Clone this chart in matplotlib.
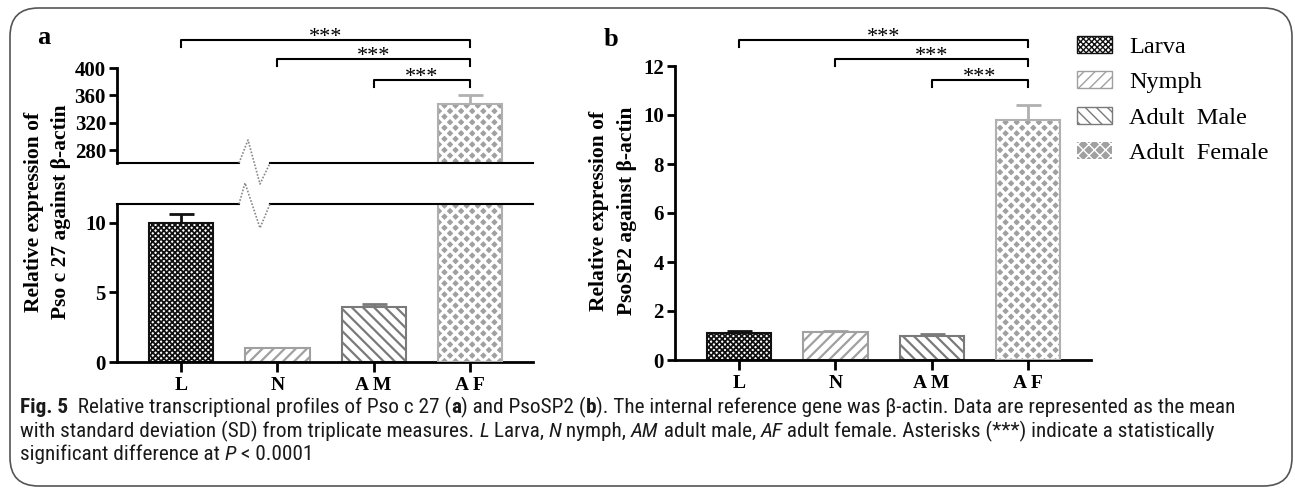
import numpy as np
import matplotlib
matplotlib.use("Agg")
import matplotlib.pyplot as plt
from matplotlib.patches import FancyBboxPatch, Patch
from matplotlib.lines import Line2D
import matplotlib.transforms as mtransforms
from matplotlib import font_manager as fm

# data
stages = ["Larva", "Nymph", "Adult  Male", "Adult  Female"]
tick_labels = ["L", "N", "A M", "A F"]
pso_c27_mean = [10.0, 0.97, 3.97, 347.0]
pso_c27_sd = [0.6, 0.05, 0.2, 13.0]
psosp2_mean = [1.1, 1.13, 0.98, 9.8]
psosp2_sd = [0.1, 0.05, 0.1, 0.6]
# groups compared against AF
sig_pairs = [(0, 3), (1, 3), (2, 3)]

W, H = 1295, 492
SERIF = ["Liberation Serif", "DejaVu Serif"]
plt.rcParams["font.family"] = SERIF
plt.rcParams["font.weight"] = "bold"

# pick a narrow sans for the caption if one is installed
names = {f.name for f in fm.fontManager.ttflist}
cap_stretch = "normal"
if "Liberation Sans Narrow" in names:
    CAP = ["Liberation Sans Narrow", "DejaVu Sans"]
elif "Roboto Condensed" in names:
    CAP = ["Roboto Condensed", "DejaVu Sans"]
elif any(f.name == "DejaVu Sans" and str(f.stretch) == "condensed" for f in fm.fontManager.ttflist):
    CAP = ["DejaVu Sans"]
    cap_stretch = "condensed"
else:
    CAP = ["Roboto", "DejaVu Sans"]

edge_cols = ["#111111", "#a0a0a0", "#7a7a7a", "#b0b0b0"]
hatches = ["xxxxxx", "///", "\\\\\\", "xxx"]
hatch_lw = [1.3, 1.6, 1.6, 2.3]

fig = plt.figure(figsize=(W / 100, H / 100), dpi=100)


def px_axes(left, top, right, bottom):
    return fig.add_axes([left / W, 1 - bottom / H, (right - left) / W, (bottom - top) / H])


def set_hlw(patch, lw):
    if hasattr(patch, "set_hatch_linewidth"):
        patch.set_hatch_linewidth(lw)


def draw_bars(ax, means, sds):
    x = np.arange(len(means))
    for i in range(len(means)):
        if i == 3:
            # grey diamonds on white: grey face under a thick white lattice
            b = ax.bar(x[i], means[i], 0.667, color="#a0a0a0", edgecolor="white",
                       hatch=hatches[i], linewidth=0, zorder=2)
            set_hlw(b[0], hatch_lw[i])
            ax.bar(x[i], means[i], 0.667, fill=False, edgecolor=edge_cols[i],
                   linewidth=1.5, zorder=3)
        else:
            b = ax.bar(x[i], means[i], 0.667, color="white", edgecolor=edge_cols[i],
                       hatch=hatches[i], linewidth=1.5, zorder=2)
            set_hlw(b[0], hatch_lw[i])
        ax.errorbar(x[i], means[i], yerr=[[0], [sds[i]]], fmt="none",
                    ecolor=edge_cols[i], elinewidth=2, capsize=9, capthick=2, zorder=1)


def style_axis(ax):
    for s in ["top", "right"]:
        ax.spines[s].set_visible(False)
    ax.spines["left"].set_linewidth(2)
    ax.spines["bottom"].set_linewidth(2)
    ax.tick_params(axis="both", width=2, length=6, labelsize=15, pad=2)
    ax.set_xlim(-0.667, 3.656)


# ---- panel a (broken axis)
ax_top = px_axes(117, 68, 533, 163)
ax_bot = px_axes(117, 204, 533, 362)
for ax in (ax_top, ax_bot):
    draw_bars(ax, pso_c27_mean, pso_c27_sd)
    style_axis(ax)
ax_top.set_ylim(261, 400)
ax_top.set_yticks([280, 320, 360, 400])
ax_top.spines["bottom"].set_visible(False)
ax_top.tick_params(axis="x", bottom=False, labelbottom=False)
ax_bot.set_ylim(0, 11.35)
ax_bot.set_yticks([0, 5, 10])
ax_bot.set_xticks(range(4))
ax_bot.set_xticklabels(tick_labels, fontsize=14)
ax_bot.tick_params(axis="x", length=7, pad=4)

# break marks
gap_l, gap_r = 239, 270
for yline, zig in [(163, [(239, 163), (248, 140), (260, 184), (270, 163)]),
                   (204, [(239, 204), (245, 183), (260, 228), (270, 204)])]:
    fig.add_artist(Line2D([117 / W, gap_l / W], [1 - yline / H] * 2, color="black", lw=1.5))
    fig.add_artist(Line2D([gap_r / W, 533 / W], [1 - yline / H] * 2, color="black", lw=1.5))
    zx, zy = zip(*zig)
    fig.add_artist(Line2D([v / W for v in zx], [1 - v / H for v in zy],
                          color="#888888", lw=1.2, ls=(0, (1, 1))))

# ---- panel b
ax_b = px_axes(675, 66, 1091, 360)
draw_bars(ax_b, psosp2_mean, psosp2_sd)
style_axis(ax_b)
ax_b.set_ylim(0, 12)
ax_b.set_yticks(range(0, 13, 2))
ax_b.set_xticks(range(4))
ax_b.set_xticklabels(tick_labels, fontsize=14)
ax_b.tick_params(axis="x", length=7, pad=4)

# significance brackets
bracket_y = [40, 59, 80]
for ax in (ax_bot, ax_b):
    tr = mtransforms.blended_transform_factory(ax.transData, fig.transFigure)
    for (i, j), yb in zip(sig_pairs, bracket_y):
        yf = 1 - yb / H
        yd = 1 - (yb + 7) / H
        fig.add_artist(Line2D([i, i, j, j], [yd, yf, yf, yd], color="black",
                              lw=1.5, transform=tr))
        fig.text((i + j) / 2, yf - 2 / H, "***", transform=tr, ha="center",
                 va="baseline", fontsize=16, fontweight="normal")

# panel letters
fig.text(37 / W, 1 - 38 / H, "a", fontsize=19, fontweight="bold", va="center")
fig.text(604 / W, 1 - 40 / H, "b", fontsize=19, fontweight="bold", va="center")

# y labels
fig.text(47.5 / W, 1 - 212 / H, "Relative expression of\nPso c 27 against \u03b2-actin",
         rotation=90, ha="center", va="center", fontsize=15.5, linespacing=1.5)
fig.text(613 / W, 1 - 211 / H, "Relative expression of\nPsoSP2 against \u03b2-actin",
         rotation=90, ha="center", va="center", fontsize=15.5, linespacing=1.5)

# legend
leg_patches = []
for i in range(4):
    if i == 3:
        p = Patch(facecolor="#a0a0a0", edgecolor="white", hatch=hatches[i], linewidth=0)
    else:
        p = Patch(facecolor="white", edgecolor=edge_cols[i], hatch=hatches[i], linewidth=1)
    set_hlw(p, hatch_lw[i])
    leg_patches.append(p)
fig.legend(leg_patches, stages, loc="upper left", bbox_to_anchor=(1055 / W, 1 - 14 / H),
           frameon=False, prop={"family": SERIF, "size": 17.5, "weight": "normal"},
           handlelength=1.45, handleheight=0.7, handletextpad=0.7, labelspacing=0.55)

# frame
fig.add_artist(FancyBboxPatch((10 / W, 1 - 486 / H), 1282 / W, 478 / H,
                              boxstyle="round,pad=0,rounding_size=0.022",
                              transform=fig.transFigure, fill=False,
                              edgecolor="#555555", lw=1.2, mutation_aspect=W / H))

# caption with mixed styles
caption_lines = [
    [("Fig. 5", "bold", "normal"), ("  Relative transcriptional profiles of Pso c 27 (", "normal", "normal"),
     ("a", "bold", "normal"), (") and PsoSP2 (", "normal", "normal"), ("b", "bold", "normal"),
     ("). The internal reference gene was \u03b2-actin. Data are represented as the mean", "normal", "normal")],
    [("with standard deviation (SD) from triplicate measures. ", "normal", "normal"), ("L", "normal", "italic"),
     (" Larva, ", "normal", "normal"), ("N", "normal", "italic"), (" nymph, ", "normal", "normal"),
     ("AM", "normal", "italic"), (" adult male, ", "normal", "normal"), ("AF", "normal", "italic"),
     (" adult female. Asterisks (***) indicate a statistically", "normal", "normal")],
    [("significant difference at ", "normal", "normal"), ("P", "normal", "italic"), (" < 0.0001", "normal", "normal")],
]
line_y = [413, 437, 460]
x0 = 20
renderer = fig.canvas.get_renderer()


def place_line(runs, ly, size):
    x = x0
    made = []
    for txt, wt, st in runs:
        t = fig.text(x / W, 1 - ly / H, txt, va="baseline", ha="left", fontsize=size,
                     fontweight=wt, fontstyle=st, family=CAP, fontstretch=cap_stretch,
                     color="#1a1a1a")
        x += t.get_window_extent(renderer).width
        made.append(t)
    return x, made


# fit the first line to the width it has in the reference
end, tmp = place_line(caption_lines[0], line_y[0], 13)
for t in tmp:
    t.remove()
size = 13 * (1235 - x0) / (end - x0)
for runs, ly in zip(caption_lines, line_y):
    place_line(runs, ly, size)

fig.savefig("out.png", dpi=100)
